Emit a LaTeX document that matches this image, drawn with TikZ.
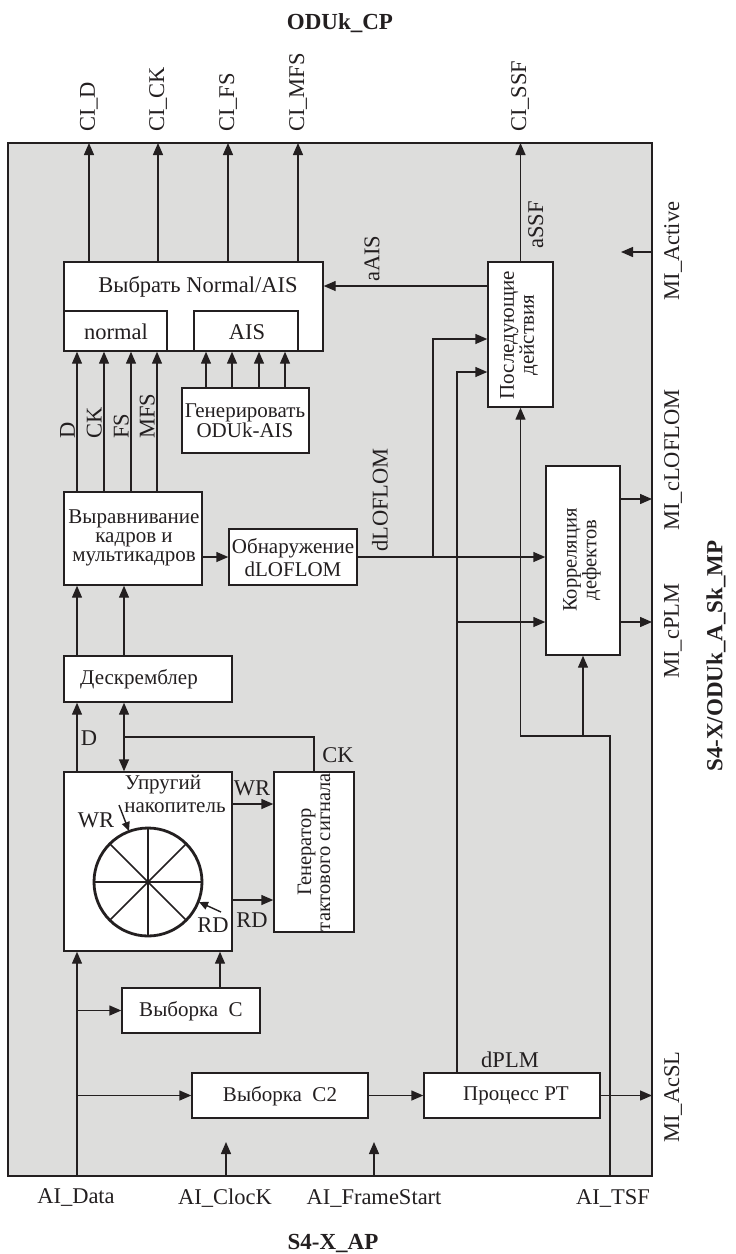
\documentclass[tikz,border=0pt]{standalone}
\usepackage{fontspec}
\setmainfont{Liberation Serif}
\usetikzlibrary{arrows.meta}
\definecolor{bggray}{RGB}{221,221,220}
\definecolor{ink}{RGB}{35,31,32}
\begin{document}
\begin{tikzpicture}[x=1pt,y=-1pt,
  ln/.style={line width=1.4pt, draw=ink},
  arr/.style={ln, -{Triangle[length=12pt,width=10pt]}},
  sarr/.style={ln, -{Triangle[length=9pt,width=8pt]}},
  blk/.style={draw=ink, line width=1.4pt, fill=white, inner sep=0pt},
  lbl/.style={font=\fontsize{22.5}{24}\selectfont, inner sep=1pt, text=ink},
  btxt/.style={font=\fontsize{21}{19}\selectfont, align=center, inner sep=0pt, text=ink},
  ttl/.style={font=\fontsize{23}{26}\selectfont\bfseries, inner sep=0pt, text=ink}
]
\useasboundingbox (0,0) rectangle (736,1254);
% outer frame
\node[draw=ink, line width=1.4pt, fill=bggray, minimum width=644pt, minimum height=1033pt, inner sep=0pt] (outer) at (330,659.5) {};

% helper coordinates
\coordinate (pD) at (89,143);
\coordinate (pCK) at (158,143);
\coordinate (pFS) at (228,143);
\coordinate (pMFS) at (298,143);
\coordinate (pSSF) at (520.5,143);
\coordinate (pAct) at (652,252);
\coordinate (actEnd) at (621,252);
\coordinate (pLOF) at (652,499);
\coordinate (pPLM) at (652,622);
\coordinate (pAcSL) at (652,1095.5);
\coordinate (pData) at (77,1176);
\coordinate (pClk) at (226,1176);
\coordinate (clkEnd) at (226,1142);
\coordinate (pFStart) at (374,1176);
\coordinate (fsEnd) at (374,1142);
\coordinate (pTSF) at (610,1176);
\foreach \x in {77,104,124,131,157,206,220,232,259,285,433,457} {\coordinate (x\x) at (\x,0);}
\foreach \y in {286,339,372,622,736,737,804,900} {\coordinate (y\y) at (0,\y);}

% blocks
\node[blk, minimum width=259pt, minimum height=89pt] (sel) at (193.5,306.5) {};
\node[blk, minimum width=103pt, minimum height=40pt] (normal) at (115.5,331) {};
\node[blk, minimum width=104pt, minimum height=40pt] (ais) at (246,331) {};
\node[blk, minimum width=127pt, minimum height=65pt] (gen) at (245.5,420.5) {};
\node[blk, minimum width=65pt, minimum height=145pt] (post) at (520.5,334.5) {};
\node[blk, minimum width=138pt, minimum height=93pt] (align) at (133,538.5) {};
\node[blk, minimum width=128pt, minimum height=56pt] (det) at (293,557) {};
\node[blk, minimum width=74pt, minimum height=189pt] (corr) at (583,560.5) {};
\node[blk, minimum width=168pt, minimum height=46pt] (desc) at (148,679) {};
\node[blk, minimum width=168pt, minimum height=179pt] (elastic) at (148,861.5) {};
\node[blk, minimum width=80pt, minimum height=160pt] (clk) at (314,852) {};
\node[blk, minimum width=138pt, minimum height=45pt] (selC) at (191,1010.5) {};
\node[blk, minimum width=176pt, minimum height=45pt] (selC2) at (280,1095.5) {};
\node[blk, minimum width=176pt, minimum height=45pt] (pt) at (512,1095.5) {};

% block texts
\node[lbl] (selT) at (198,287) {Выбрать Normal/AIS};
\node[lbl] (normalT) at (116,332) {normal};
\node[lbl] (aisT) at (247,332) {AIS};
\node[btxt] (genT) at (245,421) {Генерировать\\ODUk-AIS};
\node[btxt, rotate=90, font=\fontsize{21}{18}\selectfont] (postT) at (519,335) {Последующие\\действия};
\node[btxt] (alignT) at (134,538) {Выравнивание\\кадров и\\мультикадров};
\node[btxt, font=\fontsize{21}{23}\selectfont] (detT) at (293,558) {Обнаружение\\dLOFLOM};
\node[btxt, rotate=90, font=\fontsize{20.5}{17}\selectfont] (corrT) at (582,560) {Корреляция\\дефектов};
\node[btxt] (descT) at (139,679) {Дескремблер};
\node[btxt] (elT1) at (163,785) {Упругий};
\node[btxt] (elT2) at (175,808) {накопитель};
\node[btxt, rotate=90, font=\fontsize{20.5}{19}\selectfont] (clkT) at (314,852) {Генератор\\тактового сигнала};
\node[btxt] (selCT) at (191,1011) {Выборка~ C};
\node[btxt] (selC2T) at (280,1096) {Выборка~ C2};
\node[btxt] (ptT) at (516,1096) {Процесс PT};

% ring buffer
\draw[ink, line width=2.8pt] (148,882) circle[radius=54pt];
\draw[ink, line width=2.8pt] (94,882) -- (202,882) (148,828) -- (148,936);
\draw[ink, line width=1.5pt] (109.8,843.8) -- (186.2,920.2) (109.8,920.2) -- (186.2,843.8);
\coordinate (wrFrom) at (119,805);
\coordinate (wrTip) at (129,831);
\coordinate (rdFrom) at (221,912);
\coordinate (rdTip) at (199,902);
\draw[sarr] (wrFrom) -- (wrTip);
\draw[sarr] (rdFrom) -- (rdTip);
\node[lbl] (wrIn) at (96,820) {WR};
\node[lbl] (rdIn) at (213,925) {RD};

% connectors
\foreach \p in {pD,pCK,pFS,pMFS} {\draw[arr] (sel.north -| \p) -- (\p);}
\draw[arr] (post.north) -- (pSSF);
\draw[arr] (pAct) -- (actEnd);
\draw[arr] (post.west |- y286) -- (sel.east |- y286);
\foreach \x in {77,104,131,157} {\draw[arr] (align.north -| x\x) -- (normal.south -| x\x);}
\foreach \x in {206,232,259,285} {\draw[arr] (gen.north -| x\x) -- (ais.south -| x\x);}
\draw[arr] (align.east |- det.west) -- (det.west);
\draw[arr] (det.east) -- (corr.west |- det.east);
\draw[arr] (det.east -| x433) |- (post.west |- y339);
\draw[arr] (pt.north -| x457) |- (post.west |- y372);
\draw[arr] (x457 |- y622) -- (corr.west |- y622);
\draw[arr] (pTSF) |- (post.south |- y736) -- (post.south);
\draw[arr] (corr.south |- y736) -- (corr.south);
\draw[arr] (corr.east |- pLOF) -- (pLOF);
\draw[arr] (corr.east |- pPLM) -- (pPLM);
\draw[arr] (pt.east) -- (pAcSL);
\draw[arr] (selC2.east) -- (pt.west);
\draw[arr] (pData) -- (elastic.south -| pData);
\draw[arr] (pData |- selC2.west) -- (selC2.west);
\draw[arr] (pData |- selC.west) -- (selC.west);
\draw[arr] (selC.north -| x220) -- (elastic.south -| x220);
\draw[arr] (pClk) -- (clkEnd);
\draw[arr] (pFStart) -- (fsEnd);
\draw[arr] (elastic.north -| x77) -- (desc.south -| x77);
\draw[arr] (desc.north -| x77) -- (align.south -| x77);
\draw[arr] (desc.north -| x124) -- (align.south -| x124);
\draw[ln] (clk.north) |- (x124 |- y737);
\draw[arr] (x124 |- y737) -- (desc.south -| x124);
\draw[arr] (x124 |- y737) -- (elastic.north -| x124);
\draw[arr] (elastic.east |- y804) -- (clk.west |- y804);
\draw[arr] (elastic.east |- y900) -- (clk.west |- y900);

% signal labels
\node[lbl, rotate=90, anchor=west] (lCID) at (89,133) {CI\_D};
\node[lbl, rotate=90, anchor=west] (lCICK) at (158,133) {CI\_CK};
\node[lbl, rotate=90, anchor=west] (lCIFS) at (228,133) {CI\_FS};
\node[lbl, rotate=90, anchor=west] (lCIMFS) at (298,133) {CI\_MFS};
\node[lbl, rotate=90, anchor=west] (lCISSF) at (520,133) {CI\_SSF};
\node[lbl, rotate=90, anchor=south west] (lD) at (76,440) {D};
\node[lbl, rotate=90, anchor=south west] (lCK) at (103,440) {CK};
\node[lbl, rotate=90, anchor=south west] (lFS) at (130,440) {FS};
\node[lbl, rotate=90, anchor=south west] (lMFS) at (156,440) {MFS};
\node[lbl, rotate=90, anchor=west] (laAIS) at (372,283) {aAIS};
\node[lbl, rotate=90, anchor=north west] (laSSF) at (527,250) {aSSF};
\node[lbl, rotate=90, anchor=west] (ldLOF) at (380,553) {dLOFLOM};
\node[lbl] (lDd) at (89,738) {D};
\node[lbl] (lCKo) at (338,755) {CK};
\node[lbl] (lWR) at (252,788) {WR};
\node[lbl] (lRD) at (252,920) {RD};
\node[lbl] (ldPLM) at (510,1060) {dPLM};
\node[lbl, rotate=90] (lAct) at (673,251) {MI\_Active};
\node[lbl, rotate=90] (lLOF) at (673,460) {MI\_cLOFLOM};
\node[lbl, rotate=90] (lPLM) at (673,631) {MI\_cPLM};
\node[lbl, rotate=90] (lAcSL) at (673,1097) {MI\_AcSL};
\node[lbl] (lData) at (76,1198) {AI\_Data};
\node[lbl] (lClk) at (225,1198) {AI\_ClocK};
\node[lbl] (lFStart) at (374,1198) {AI\_FrameStart};
\node[lbl] (lTSF) at (613,1198) {AI\_TSF};
\node[ttl] (tTop) at (340,23) {ODUk\_CP};
\node[ttl] (tBot) at (333,1243) {S4-X\_AP};
\node[ttl, rotate=90] (tRight) at (716,656) {S4-X/ODUk\_A\_Sk\_MP};
\end{tikzpicture}
\end{document}
